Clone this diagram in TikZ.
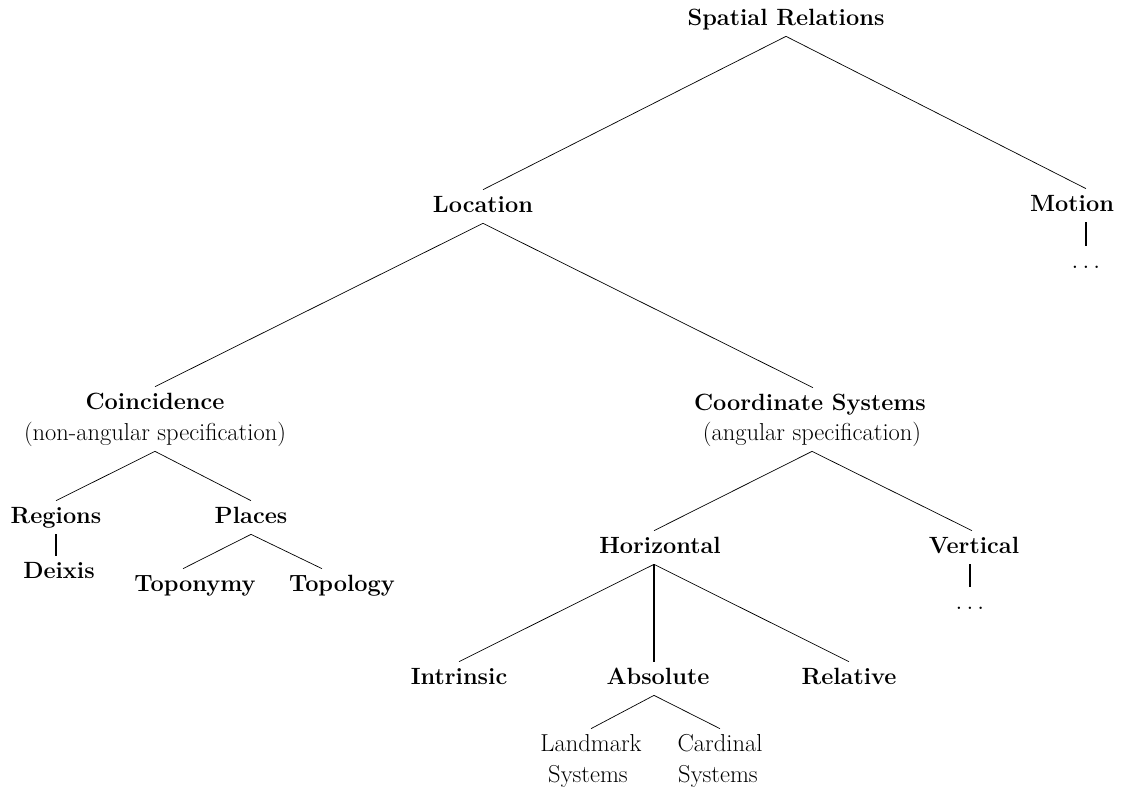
\documentclass[tikz,border=0pt]{standalone}
\usepackage{amsmath}
\usepackage{tikz}

\begin{document}
\begin{tikzpicture}[x=1pt, y=-1pt, line width=0.7pt,
    main/.style = {anchor=base, inner xsep=0pt, inner ysep=4.5pt, text height=17.5pt, text depth=6.5pt, font=\fontsize{23.5}{28}\selectfont\bfseries},
    sub/.style = {main, font=\fontsize{24.5}{28}\selectfont},
    bar/.style = {line width=2.6pt}]

    \useasboundingbox (0,0) rectangle (1123,787);

    \node[main] (1) at (786,25) {Spatial Relations};
    \node[main] (2) at (483,212) {Location};
    \node[main] (3) at (1072,211) {Motion};
    \node[sub] (4) at (1086,268) {$\ldots$};
    \node[main] (5) at (155,409) {Coincidence};
    \node[sub] (6) at (155,440) {(non-angular specification)};
    \node[main] (7) at (810,410) {Coordinate Systems};
    \node[sub] (8) at (812,440) {(angular specification)};
    \node[main] (9) at (56,523) {Regions};
    \node[main] (10) at (59,578) {Deixis};
    \node[main] (11) at (251,523) {Places};
    \node[main] (12) at (195,591) {Toponymy};
    \node[main] (13) at (342,591) {Topology};
    \node[main] (14) at (660,553) {Horizontal};
    \node[main] (15) at (974,553) {Vertical};
    \node[sub] (16) at (970,609) {$\ldots$};
    \node[main] (17) at (459,684) {Intrinsic};
    \node[main] (18) at (658,684) {Absolute};
    \node[main] (19) at (849,684) {Relative};
    \node[sub] (20) at (591,751) {Landmark};
    \node[sub] (21) at (588,782) {Systems};
    \node[sub] (22) at (720,751) {Cardinal};
    \node[sub] (23) at (718,782) {Systems};

    \draw (1.south) -- (2.north);
    \draw (1.south) -- ([xshift=14pt]3.north);
    \draw[bar] ([xshift=14pt]3.south) -- (4.north);
    \draw (2.south) -- (5.north);
    \draw (2.south) -- ([xshift=3pt]7.north);
    \draw (6.south) -- (9.north);
    \draw (6.south) -- (11.north);
    \draw[bar] (9.south) -- (9.south |- 10.north);
    \draw (11.south) -- ([xshift=-12pt]12.north);
    \draw (11.south) -- ([xshift=-20pt]13.north);
    \draw (8.south) -- ([xshift=-6pt]14.north);
    \draw (8.south) -- ([xshift=-2pt]15.north);
    \draw[bar] ([xshift=-4pt]15.south) -- (16.north);
    \draw ([xshift=-6pt]14.south) -- (17.north);
    \draw[bar] ([xshift=-6pt]14.south) -- ([xshift=-4pt]18.north);
    \draw ([xshift=-6pt]14.south) -- (19.north);
    \draw ([xshift=-4pt]18.south) -- (20.north);
    \draw ([xshift=-4pt]18.south) -- (22.north);

\end{tikzpicture}
\end{document}
